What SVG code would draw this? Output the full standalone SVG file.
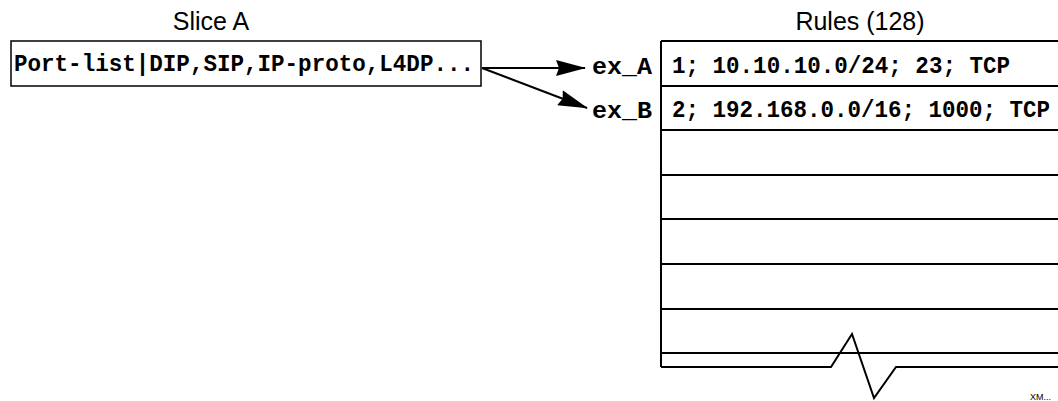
<svg xmlns="http://www.w3.org/2000/svg" width="1058" height="401" viewBox="0 0 1058 401">
<style>
.title{font-family:"Liberation Sans",Arial,sans-serif;font-size:25px;fill:#000}
.mono{font-family:"Liberation Mono","Courier New",monospace;font-size:23px;font-weight:bold;fill:#000}
.ln{stroke:#000;stroke-width:2;fill:none}
</style>
<defs>
<marker id="arr" markerUnits="userSpaceOnUse" markerWidth="30" markerHeight="16" viewBox="0 0 30 16" refX="29" refY="8" orient="auto">
<path d="M0,0 L30,8 L0,16 L3,8 Z" fill="#000"/>
</marker>
</defs>
<rect width="1058" height="401" fill="#fff"/>
<g id="slice">
<text class="title" x="211" y="30" text-anchor="middle">Slice A</text>
<rect x="11" y="41" width="470" height="45" fill="#fff" stroke="#000" stroke-width="1.5"/>
<text class="mono" x="14" y="71" textLength="460" lengthAdjust="spacingAndGlyphs">Port-list|DIP,SIP,IP-proto,L4DP...</text>
</g>
<g id="rules">
<text class="title" x="860" y="30" text-anchor="middle">Rules (128)</text>
<path class="ln" d="M661,41 H1058 M661,86 H1058 M661,130 H1058 M661,175 H1058 M661,219 H1058 M661,264 H1058 M661,309 H1058 M661,353 H1058"/>
<path class="ln" d="M661,41 V367"/>
<path class="ln" stroke-width="2.5" d="M661,367 H831 L852,334 L874,398 L896,367 H1058"/>
<text class="mono" x="672" y="73" textLength="338" lengthAdjust="spacingAndGlyphs">1; 10.10.10.0/24; 23; TCP</text>
<text class="mono" x="672" y="117" textLength="378" lengthAdjust="spacingAndGlyphs">2; 192.168.0.0/16; 1000; TCP</text>
</g>
<g id="ex_A"><text class="mono" x="592" y="74" textLength="60" lengthAdjust="spacingAndGlyphs">ex_A</text></g>
<g id="ex_B"><text class="mono" x="592" y="118" textLength="60" lengthAdjust="spacingAndGlyphs">ex_B</text></g>
<g id="connectors">
<line class="ln" x1="482" y1="68" x2="585" y2="68" marker-end="url(#arr)"/>
<line class="ln" x1="482" y1="68" x2="587" y2="108" marker-end="url(#arr)"/>
</g>
<text x="1030" y="400" font-family="Liberation Sans,Arial,sans-serif" font-size="9" fill="#000">XM...</text>
</svg>
